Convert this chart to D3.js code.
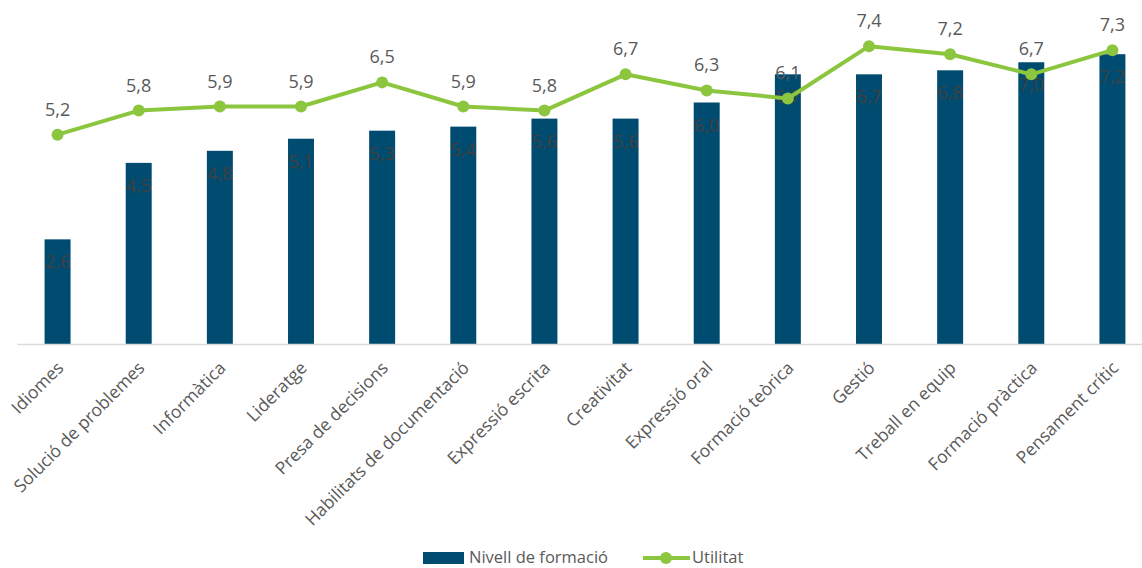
<!DOCTYPE html>
<html>
<head>
<meta charset="utf-8">
<script src="https://cdn.jsdelivr.net/npm/d3@7"></script>
<style>
body { margin: 0; background: #fff; }
text { font-family: "Open Sans", sans-serif; }
</style>
</head>
<body>
<svg id="chart" width="1142" height="568"></svg>
<script>
// data
var categories = ["Idiomes", "Solució de problemes", "Informàtica", "Lideratge",
  "Presa de decisions", "Habilitats de documentació", "Expressió escrita",
  "Creativitat", "Expressió oral", "Formació teòrica", "Gestió",
  "Treball en equip", "Formació pràctica", "Pensament crític"];
var nivell = [2.6, 4.5, 4.8, 5.1, 5.3, 5.4, 5.6, 5.6, 6.0, 6.7, 6.7, 6.8, 7.0, 7.2];
var utilitat = [5.2, 5.8, 5.9, 5.9, 6.5, 5.9, 5.8, 6.7, 6.3, 6.1, 7.4, 7.2, 6.7, 7.3];
var series_names = ["Nivell de formació", "Utilitat"];

var bar_color = "#004c70";
var line_color = "#8cc63f";
var fmt = function(v){ return d3.format(".1f")(v).replace(".", ","); };

var svg = d3.select("#chart");
var base_y = 344, top_y = 22;

var x = d3.scaleBand()
  .domain(categories)
  .range([17, 1153])
  .paddingInner(0.68)
  .paddingOuter(0.34);

var y = d3.scaleLinear()
  .domain([0, 8])
  .range([base_y, top_y]);

// bars
svg.append("g").selectAll("rect")
  .data(nivell)
  .enter().append("rect")
  .attr("x", function(d, i){ return x(categories[i]); })
  .attr("y", function(d){ return y(d); })
  .attr("width", x.bandwidth())
  .attr("height", function(d){ return base_y - y(d); })
  .attr("fill", bar_color);

// axis line + labels
var xAxis = d3.axisBottom(x).tickSize(0).tickPadding(0);
var gx = svg.append("g")
  .attr("transform", "translate(0," + base_y + ")")
  .call(xAxis);
gx.select(".domain").attr("stroke", "#d9d9d9").attr("stroke-width", 1.5);
gx.selectAll(".tick text")
  .attr("font-size", 17.5)
  .attr("fill", "#595959")
  .attr("text-anchor", "end")
  .attr("dy", 0)
  .attr("transform", "translate(7,25) rotate(-45)");

// bar value labels (inside end)
svg.append("g").selectAll("text")
  .data(nivell)
  .enter().append("text")
  .attr("x", function(d, i){ return x(categories[i]) + x.bandwidth() / 2; })
  .attr("y", function(d){ return y(d) + 29; })
  .attr("text-anchor", "middle")
  .attr("font-size", 18)
  .attr("fill", "#404040")
  .text(fmt);

// line
var cx = function(i){ return x(categories[i]) + x.bandwidth() / 2; };
var line = d3.line()
  .x(function(d, i){ return cx(i); })
  .y(function(d){ return y(d); });

svg.append("path")
  .datum(utilitat)
  .attr("d", line)
  .attr("fill", "none")
  .attr("stroke", line_color)
  .attr("stroke-width", 4)
  .attr("stroke-linejoin", "round");

svg.append("g").selectAll("circle")
  .data(utilitat)
  .enter().append("circle")
  .attr("cx", function(d, i){ return cx(i); })
  .attr("cy", function(d){ return y(d); })
  .attr("r", 6)
  .attr("fill", line_color);

svg.append("g").selectAll("text")
  .data(utilitat)
  .enter().append("text")
  .attr("x", function(d, i){ return cx(i); })
  .attr("y", function(d){ return y(d) - 19; })
  .attr("text-anchor", "middle")
  .attr("font-size", 18)
  .attr("fill", "#595959")
  .text(fmt);

// legend
var lg = svg.append("g");
lg.append("rect")
  .attr("x", 423).attr("y", 552)
  .attr("width", 41).attr("height", 12)
  .attr("fill", bar_color);
lg.append("text")
  .attr("x", 469).attr("y", 563)
  .attr("font-size", 16.5).attr("fill", "#595959")
  .text(series_names[0]);
lg.append("line")
  .attr("x1", 643).attr("x2", 690)
  .attr("y1", 558).attr("y2", 558)
  .attr("stroke", line_color).attr("stroke-width", 4);
lg.append("circle")
  .attr("cx", 666).attr("cy", 558).attr("r", 6)
  .attr("fill", line_color);
lg.append("text")
  .attr("x", 692).attr("y", 563)
  .attr("font-size", 16.5).attr("fill", "#595959")
  .text(series_names[1]);
</script>
</body>
</html>
